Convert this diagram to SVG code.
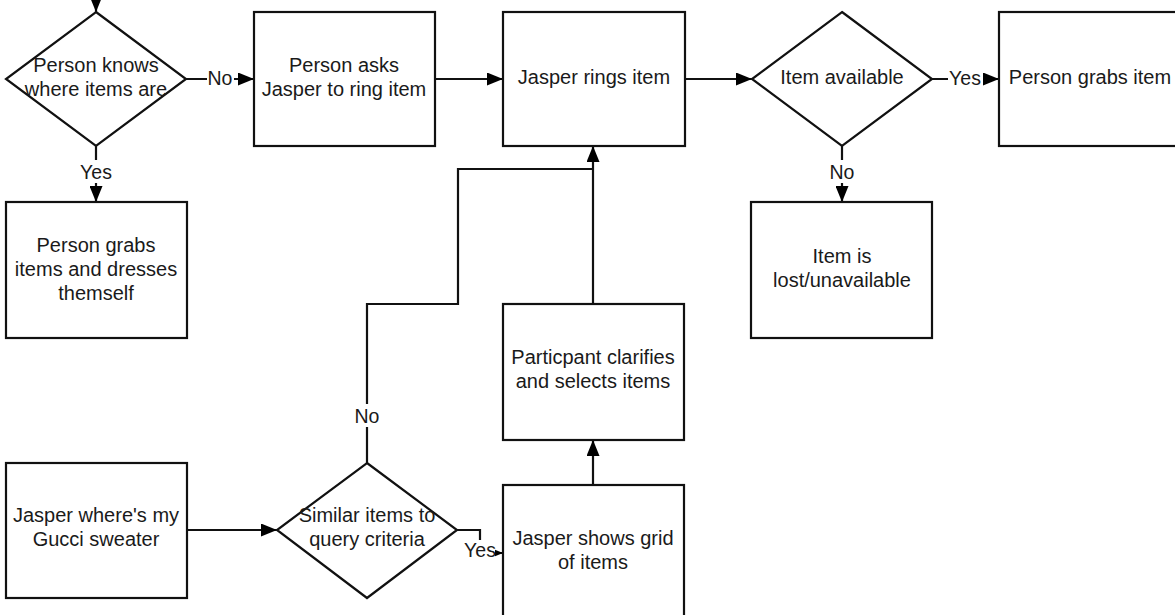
<svg xmlns="http://www.w3.org/2000/svg" width="1175" height="615" viewBox="0 0 1175 615">
<style>
.n{fill:#fff;stroke:#111;stroke-width:2.2}
.t{font-family:"Liberation Sans",Arial,sans-serif;font-size:20px;fill:#1a1a1a;text-anchor:middle}
.l{font-family:"Liberation Sans",Arial,sans-serif;font-size:19.5px;fill:#1a1a1a;text-anchor:middle}
.c{fill:none;stroke:#111;stroke-width:2.2}
.lb{fill:#fff}
</style>
<defs>
<marker id="ah" markerUnits="userSpaceOnUse" markerWidth="16" markerHeight="13" refX="16" refY="6.5" orient="auto"><path d="M0,0 L16,6.5 L0,13 z" fill="#000"/></marker>
</defs>
<rect width="1175" height="615" fill="#fff"/>
<g id="connectors">
<path class="c" d="M96,-6 L96,12" marker-end="url(#ah)"/>
<path class="c" d="M186,79 L254,79" marker-end="url(#ah)"/>
<path class="c" d="M96,146 L96,202" marker-end="url(#ah)"/>
<path class="c" d="M435,79 L503,79" marker-end="url(#ah)"/>
<path class="c" d="M685,79 L752,79" marker-end="url(#ah)"/>
<path class="c" d="M932,79 L999,79" marker-end="url(#ah)"/>
<path class="c" d="M842,146 L842,202" marker-end="url(#ah)"/>
<path class="c" d="M187,530 L277,530" marker-end="url(#ah)"/>
<path class="c" d="M457,530 L480,530 L480,553 L503,553" marker-end="url(#ah)"/>
<path class="c" d="M593,485 L593,440" marker-end="url(#ah)"/>
<path class="c" d="M593,304 L593,146" marker-end="url(#ah)"/>
<path class="c" d="M367,463 L367,304 L458,304 L458,169 L593,169"/>
<rect class="lb" x="207" y="68" width="27" height="22"/>
<text class="l" x="220" y="85">No</text>
<rect class="lb" x="80" y="160" width="33" height="23"/>
<text class="l" x="96" y="179">Yes</text>
<rect class="lb" x="948" y="68" width="35" height="22"/>
<text class="l" x="965" y="85">Yes</text>
<rect class="lb" x="829" y="160" width="27" height="23"/>
<text class="l" x="842" y="179">No</text>
<rect class="lb" x="354" y="404" width="27" height="23"/>
<text class="l" x="367" y="423">No</text>
<rect class="lb" x="464" y="540" width="31" height="20"/>
<text class="l" x="480" y="557">Yes</text>
</g>
<g id="d-knows">
<polygon class="n" points="96,12 186,79 96,146 6,79"/>
<text class="t" x="96" y="72">Person knows</text>
<text class="t" x="96" y="96">where items are</text>
</g>
<g id="n-asks">
<rect class="n" x="254" y="12" width="181" height="134"/>
<text class="t" x="344" y="72">Person asks</text>
<text class="t" x="344" y="96">Jasper to ring item</text>
</g>
<g id="n-rings">
<rect class="n" x="503" y="12" width="182" height="134"/>
<text class="t" x="594" y="84">Jasper rings item</text>
</g>
<g id="d-available">
<polygon class="n" points="842,12 932,79 842,146 752,79"/>
<text class="t" x="842" y="84">Item available</text>
</g>
<g id="n-grabs-item">
<rect class="n" x="999" y="12" width="181" height="134"/>
<text class="t" x="1090" y="84">Person grabs item</text>
</g>
<g id="n-dresses">
<rect class="n" x="6" y="202" width="181" height="136"/>
<text class="t" x="96" y="252">Person grabs</text>
<text class="t" x="96" y="276">items and dresses</text>
<text class="t" x="96" y="300">themself</text>
</g>
<g id="n-lost">
<rect class="n" x="751" y="202" width="181" height="136"/>
<text class="t" x="842" y="263">Item is</text>
<text class="t" x="842" y="287">lost/unavailable</text>
</g>
<g id="n-participant">
<rect class="n" x="503" y="304" width="181" height="136"/>
<text class="t" x="593" y="364">Particpant clarifies</text>
<text class="t" x="593" y="388">and selects items</text>
</g>
<g id="n-gucci">
<rect class="n" x="6" y="463" width="181" height="135"/>
<text class="t" x="96" y="522">Jasper where's my</text>
<text class="t" x="96" y="546">Gucci sweater</text>
</g>
<g id="d-similar">
<polygon class="n" points="367,463 457,530 367,598 277,530"/>
<text class="t" x="367" y="522">Similar items to</text>
<text class="t" x="367" y="546">query criteria</text>
</g>
<g id="n-grid">
<rect class="n" x="503" y="485" width="181" height="136"/>
<text class="t" x="593" y="545">Jasper shows grid</text>
<text class="t" x="593" y="569">of items</text>
</g>
</svg>
